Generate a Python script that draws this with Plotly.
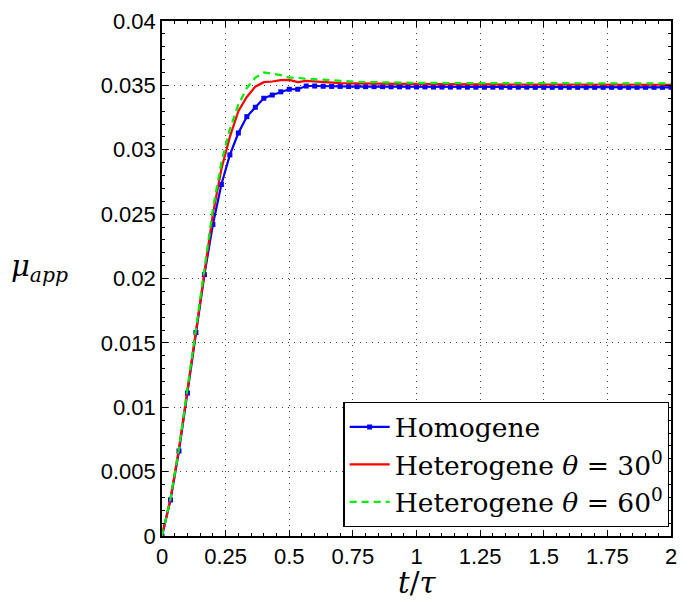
import plotly.graph_objects as go

# time axis t/tau, sampled every 1/30
t_tau = [k / 30 for k in range(61)]

mu_homogene = [
    0.0000, 0.0028, 0.0066, 0.0111, 0.0158, 0.0203, 0.0242, 0.0273, 0.0296, 0.0313,
    0.03257, 0.0333, 0.0340, 0.03425, 0.0345, 0.0347, 0.0347, 0.03495, 0.03495, 0.03493,
    0.03492, 0.03492, 0.03491, 0.0349, 0.0349, 0.0349, 0.0349, 0.03489, 0.03489, 0.03488,
    0.03488, 0.03488, 0.03487, 0.03487, 0.03487, 0.03487, 0.03486, 0.03486, 0.03486, 0.03486,
    0.03486, 0.03486, 0.03486, 0.03486, 0.03485, 0.03485, 0.03485, 0.03485, 0.03485, 0.03485,
    0.03485, 0.03485, 0.03485, 0.03485, 0.03485, 0.03485, 0.03485, 0.03485, 0.03485, 0.03485,
    0.03485,
]

mu_hetero_30 = [
    0.0000, 0.0029, 0.0068, 0.0114, 0.0162, 0.0208, 0.0250, 0.0285, 0.0310, 0.0330,
    0.0341, 0.0349, 0.03525, 0.0353, 0.0354, 0.03542, 0.03525, 0.03535, 0.0353, 0.03525,
    0.0352, 0.03518, 0.03516, 0.03515, 0.03514, 0.03513, 0.03512, 0.03511, 0.0351, 0.0351,
    0.0351, 0.03509, 0.03509, 0.03508, 0.03508, 0.03508, 0.03507, 0.03507, 0.03507, 0.03507,
    0.03506, 0.03506, 0.03506, 0.03506, 0.03506, 0.03506, 0.03505, 0.03505, 0.03505, 0.03505,
    0.03505, 0.03505, 0.03505, 0.03505, 0.03505, 0.03505, 0.03505, 0.03505, 0.03505, 0.03505,
    0.03505,
]

mu_hetero_60 = [
    0.0000, 0.0029, 0.0068, 0.0115, 0.0163, 0.0210, 0.0254, 0.0290, 0.0316, 0.0335,
    0.0348, 0.0356, 0.0360, 0.0359, 0.0358, 0.0356, 0.0356, 0.0355, 0.0355, 0.03545,
    0.0354, 0.03535, 0.0353, 0.03528, 0.03526, 0.03524, 0.03523, 0.03522, 0.03521, 0.0352,
    0.0352, 0.03519, 0.03519, 0.03518, 0.03518, 0.03518, 0.03517, 0.03517, 0.03517, 0.03517,
    0.03516, 0.03516, 0.03516, 0.03516, 0.03516, 0.03516, 0.03515, 0.03515, 0.03515, 0.03515,
    0.03515, 0.03515, 0.03515, 0.03515, 0.03515, 0.03515, 0.03515, 0.03515, 0.03515, 0.03515,
    0.03515,
]

x_ticks = [0, 0.25, 0.5, 0.75, 1, 1.25, 1.5, 1.75, 2]
x_tick_labels = ["0", "0.25", "0.5", "0.75", "1", "1.25", "1.5", "1.75", "2"]
y_ticks = [0, 0.005, 0.01, 0.015, 0.02, 0.025, 0.03, 0.035, 0.04]
y_tick_labels = ["0", "0.005", "0.01", "0.015", "0.02", "0.025", "0.03", "0.035", "0.04"]

names = ["Homogene", "Heterogene <i>θ</i> = 30<sup>0</sup>", "Heterogene <i>θ</i> = 60<sup>0</sup>"]

fig = go.Figure()
fig.add_trace(go.Scatter(
    x=t_tau, y=mu_homogene, name=names[0], mode="lines+markers",
    line=dict(color="#0000ff", width=2.2),
    marker=dict(symbol="square", size=5, color="#0000ff"),
))
fig.add_trace(go.Scatter(
    x=t_tau, y=mu_hetero_30, name=names[1], mode="lines",
    line=dict(color="#ff0000", width=2.2),
))
fig.add_trace(go.Scatter(
    x=t_tau, y=mu_hetero_60, name=names[2], mode="lines",
    line=dict(color="#00ee00", width=2.2, dash="7px,5px"),
))

axis_common = dict(
    showline=True, linecolor="black", linewidth=1.6, mirror="allticks",
    ticks="inside", ticklen=6, tickwidth=1, tickcolor="black",
    showgrid=True, gridcolor="#444444", griddash="1px,5px", gridwidth=1,
    zeroline=False,
    tickfont=dict(family="Liberation Sans, Arial, sans-serif", size=22, color="black"),
)

fig.update_xaxes(
    range=[0, 2], tickvals=x_ticks, ticktext=x_tick_labels,
    minor=dict(ticks="inside", dtick=0.05, ticklen=3, tickcolor="black", showgrid=False),
    **axis_common,
)
fig.update_yaxes(
    range=[0, 0.04], tickvals=y_ticks, ticktext=y_tick_labels,
    minor=dict(ticks="inside", dtick=0.001, ticklen=3, tickcolor="black", showgrid=False),
    **axis_common,
)

fig.update_layout(
    width=683, height=601,
    margin=dict(l=162, r=6, t=21, b=65),
    paper_bgcolor="white", plot_bgcolor="white",
    showlegend=True,
    legend=dict(
        x=0.997, y=0.0175, xanchor="right", yanchor="bottom",
        bgcolor="white", bordercolor="black", borderwidth=1.2,
        font=dict(family="DejaVu Serif, serif", size=26.5, color="black"),
        tracegroupgap=0, itemwidth=40,
    ),
    annotations=[
        dict(text="<i>t</i>/<i>τ</i>", xref="paper", yref="paper", x=0.5, y=-0.091,
             xanchor="center", yanchor="middle", showarrow=False,
             font=dict(family="DejaVu Serif, serif", size=29, color="black")),
        dict(text="<i>μ</i><sub><i>app</i></sub>", xref="paper", yref="paper", x=-0.3, y=0.52,
             xanchor="left", yanchor="middle", showarrow=False,
             font=dict(family="DejaVu Serif, serif", size=29, color="black")),
    ],
)

fig.write_html("out.html", config={"displayModeBar": False},
               post_script="document.body.style.margin='0';")
